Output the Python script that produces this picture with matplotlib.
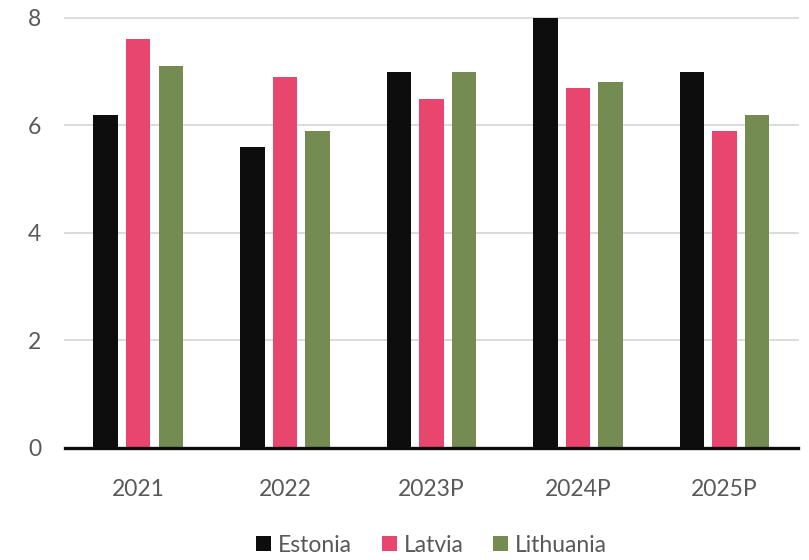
import numpy as np
from matplotlib import pyplot as plt

categories = ['2021', '2022', '2023P', '2024P', '2025P']
estonia = [6.2, 5.6, 7.0, 8.0, 7.0]
latvia = [7.6, 6.9, 6.5, 6.7, 5.9]
lithuania = [7.1, 5.9, 7.0, 6.8, 6.2]

series = [('Estonia', estonia, '#0d0d0d'),
          ('Latvia', latvia, '#e8456f'),
          ('Lithuania', lithuania, '#748b52')]


def main():
    plt.rcParams['font.family'] = ['Lato', 'DejaVu Sans']
    fig = plt.figure(figsize=(8.09, 5.6), dpi=100)
    ax = fig.add_axes([0.0803, 0.2, 0.906, 0.768])

    x = np.arange(len(categories))
    width = 0.167
    step = 0.222
    for i, (name, vals, color) in enumerate(series):
        ax.bar(x + (i - 1) * step, vals, width, color=color, label=name, zorder=3)

    ax.set_xlim(-0.5, len(categories) - 0.5)
    ax.set_ylim(0, 8)
    ax.set_yticks([0, 2, 4, 6, 8])
    ax.set_xticks(x)
    ax.set_xticklabels(categories)
    ax.yaxis.grid(True, color='#d9d9d9', linewidth=1.3, zorder=0)
    ax.set_axisbelow(True)
    for s in ['top', 'right', 'left']:
        ax.spines[s].set_visible(False)
    ax.spines['bottom'].set_linewidth(2.4)
    ax.spines['bottom'].set_color('#0d0d0d')
    ax.spines['bottom'].set_zorder(4)
    ax.tick_params(axis='both', length=0, labelsize=16.5, colors='#595959')
    ax.tick_params(axis='y', pad=17)
    ax.tick_params(axis='x', pad=22)
    for gl in ax.get_ygridlines():
        gl.set_clip_on(False)

    ax.legend(loc='lower center', bbox_to_anchor=(0.5, -0.298), ncol=3, frameon=False,
              fontsize=16.5, handlelength=0.65, handleheight=0.65, handletextpad=0.3,
              columnspacing=1.3, labelcolor='#595959')

    fig.savefig('out.png', dpi=100)


if __name__ == '__main__':
    main()
